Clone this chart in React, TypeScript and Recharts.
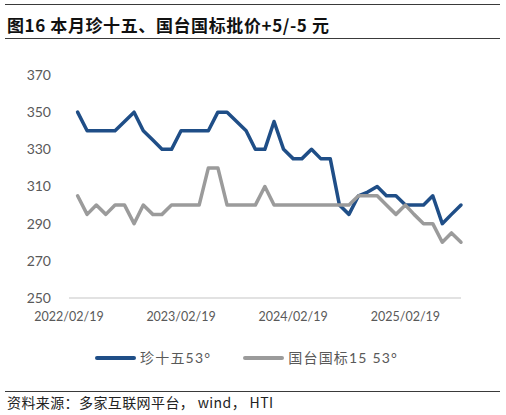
import React from "react";
import { LineChart, Line, XAxis, YAxis, Legend } from "recharts";

const months = [
  "2022-03", "2022-04", "2022-05", "2022-06", "2022-07", "2022-08", "2022-09", "2022-10", "2022-11", "2022-12",
  "2023-01", "2023-02", "2023-03", "2023-04", "2023-05", "2023-06", "2023-07", "2023-08", "2023-09", "2023-10", "2023-11", "2023-12",
  "2024-01", "2024-02", "2024-03", "2024-04", "2024-05", "2024-06", "2024-07", "2024-08", "2024-09", "2024-10", "2024-11", "2024-12",
  "2025-01", "2025-02", "2025-03", "2025-04", "2025-05", "2025-06", "2025-07", "2025-08",
];

const zhenShiWu = [
  350, 340, 340, 340, 340, 345, 350, 340, 335, 330, 330, 340, 340, 340, 340, 350, 350, 345, 340, 330, 330,
  345, 330, 325, 325, 330, 325, 325, 300, 295, 305, 307, 310, 305, 305, 300, 300, 300, 305, 290, 295, 300,
];

const guoTai = [
  305, 295, 300, 295, 300, 300, 290, 300, 295, 295, 300, 300, 300, 300, 320, 320, 300, 300, 300, 300, 310,
  300, 300, 300, 300, 300, 300, 300, 300, 300, 305, 305, 305, 300, 295, 300, 295, 290, 290, 280, 285, 280,
];

const xTickLabels = ["2022/02/19", "2023/02/19", "2024/02/19", "2025/02/19"];
const xDomainLabels = ["2022/02/19", "2025/08/19"];
const yTicks = [250, 270, 290, 310, 330, 350, 370];

const seriesNames = ["珍十五53°", "国台国标15 53°"];
const seriesColors = ["#1F4E87", "#9B9B9B"];

const toTs = (s: string) => {
  const [y, m, d] = s.split("/").map(Number);
  return Date.UTC(y, m - 1, d);
};

const data = months.map((mo, i) => {
  const [y, m] = mo.split("-").map(Number);
  return { t: Date.UTC(y, m - 1, 19), a: zhenShiWu[i], b: guoTai[i] };
});

const xTicks = xTickLabels.map(toTs);
const xDomain = xDomainLabels.map(toTs);

const fmtTick = (v: number) => {
  const d = new Date(v);
  const mm = String(d.getUTCMonth() + 1).padStart(2, "0");
  const dd = String(d.getUTCDate()).padStart(2, "0");
  return `${d.getUTCFullYear()}/${mm}/${dd}`;
};

const LATIN = "Lato, 'Noto Sans CJK SC', sans-serif";
const CJK = "'Noto Sans CJK SC', sans-serif";

const LegendContent = (props: any) => {
  const payload = [...(props.payload || [])].sort(
    (p: any, q: any) => seriesNames.indexOf(p.value) - seriesNames.indexOf(q.value)
  );
  return (
    <div style={{ display: "flex", alignItems: "center", paddingLeft: 95 }}>
      {payload.map((p: any, i: number) => (
        <div key={i} style={{ display: "flex", alignItems: "center", marginRight: 32 }}>
          <div
            style={{
              width: 41,
              height: 4,
              borderRadius: 2,
              background: p.color,
              marginRight: 4,
            }}
          />
          <span style={{ fontFamily: LATIN, fontSize: 14, lineHeight: "20px", color: "#595959", letterSpacing: 1.2 }}>
            {p.value}
          </span>
        </div>
      ))}
    </div>
  );
};

export default function App() {
  return (
    <div
      style={{
        position: "fixed",
        left: 0,
        top: 0,
        width: 506,
        height: 415,
        background: "#fff",
        overflow: "hidden",
      }}
    >
      <div style={{ position: "absolute", left: 5, top: 4, width: 495, height: 0, borderTop: "1.5px solid #3a3a3a" }} />
      <div
        style={{
          position: "absolute",
          left: 7,
          top: 13,
          fontFamily: CJK,
          fontWeight: 700,
          fontSize: 17,
          letterSpacing: 0.6,
          lineHeight: "24px",
          color: "#111",
          whiteSpace: "nowrap",
        }}
      >
        图16 本月珍十五、国台国标批价+5/-5 元
      </div>
      <div style={{ position: "absolute", left: 5, top: 38, width: 495, height: 0, borderTop: "1.5px solid #3a3a3a" }} />

      <div style={{ position: "absolute", left: 0, top: 0 }}>
        <LineChart width={506} height={415} data={data} margin={{ top: 75, right: 45, bottom: 87, left: 0 }}>
          <XAxis
            dataKey="t"
            type="number"
            scale="time"
            domain={xDomain}
            ticks={xTicks}
            tickFormatter={fmtTick}
            tickLine={false}
            tickSize={0}
            tickMargin={14}
            height={30}
            axisLine={{ stroke: "#D9D9D9", strokeWidth: 1.5 }}
            tick={{ fill: "#595959", fontSize: 12.5, fontFamily: LATIN }}
            interval={0}
          />
          <YAxis
            type="number"
            domain={[250, 370]}
            ticks={yTicks}
            width={69}
            axisLine={false}
            tickLine={false}
            tickSize={0}
            tickMargin={18}
            tick={{ fill: "#595959", fontSize: 14, fontFamily: LATIN }}
            interval={0}
          />
          <Legend
            verticalAlign="top"
            align="left"
            content={<LegendContent />}
            wrapperStyle={{ position: "absolute", left: 0, top: 348, width: 506, height: 0, overflow: "visible" }}
          />
          <Line
            type="linear"
            dataKey="a"
            name={seriesNames[0]}
            stroke={seriesColors[0]}
            strokeWidth={3.5}
            strokeLinejoin="round"
            strokeLinecap="round"
            dot={false}
            activeDot={false}
            isAnimationActive={false}
          />
          <Line
            type="linear"
            dataKey="b"
            name={seriesNames[1]}
            stroke={seriesColors[1]}
            strokeWidth={3.5}
            strokeLinejoin="round"
            strokeLinecap="round"
            dot={false}
            activeDot={false}
            isAnimationActive={false}
          />
        </LineChart>
      </div>

      <div style={{ position: "absolute", left: 5, top: 391, width: 495, height: 0, borderTop: "1.5px solid #3a3a3a" }} />
      <div
        style={{
          position: "absolute",
          left: 7,
          top: 393,
          fontFamily: CJK,
          fontSize: 14,
          letterSpacing: 0.4,
          lineHeight: "18px",
          color: "#222",
          whiteSpace: "nowrap",
        }}
      >
        资料来源：多家互联网平台， wind， HTI
      </div>
    </div>
  );
}
